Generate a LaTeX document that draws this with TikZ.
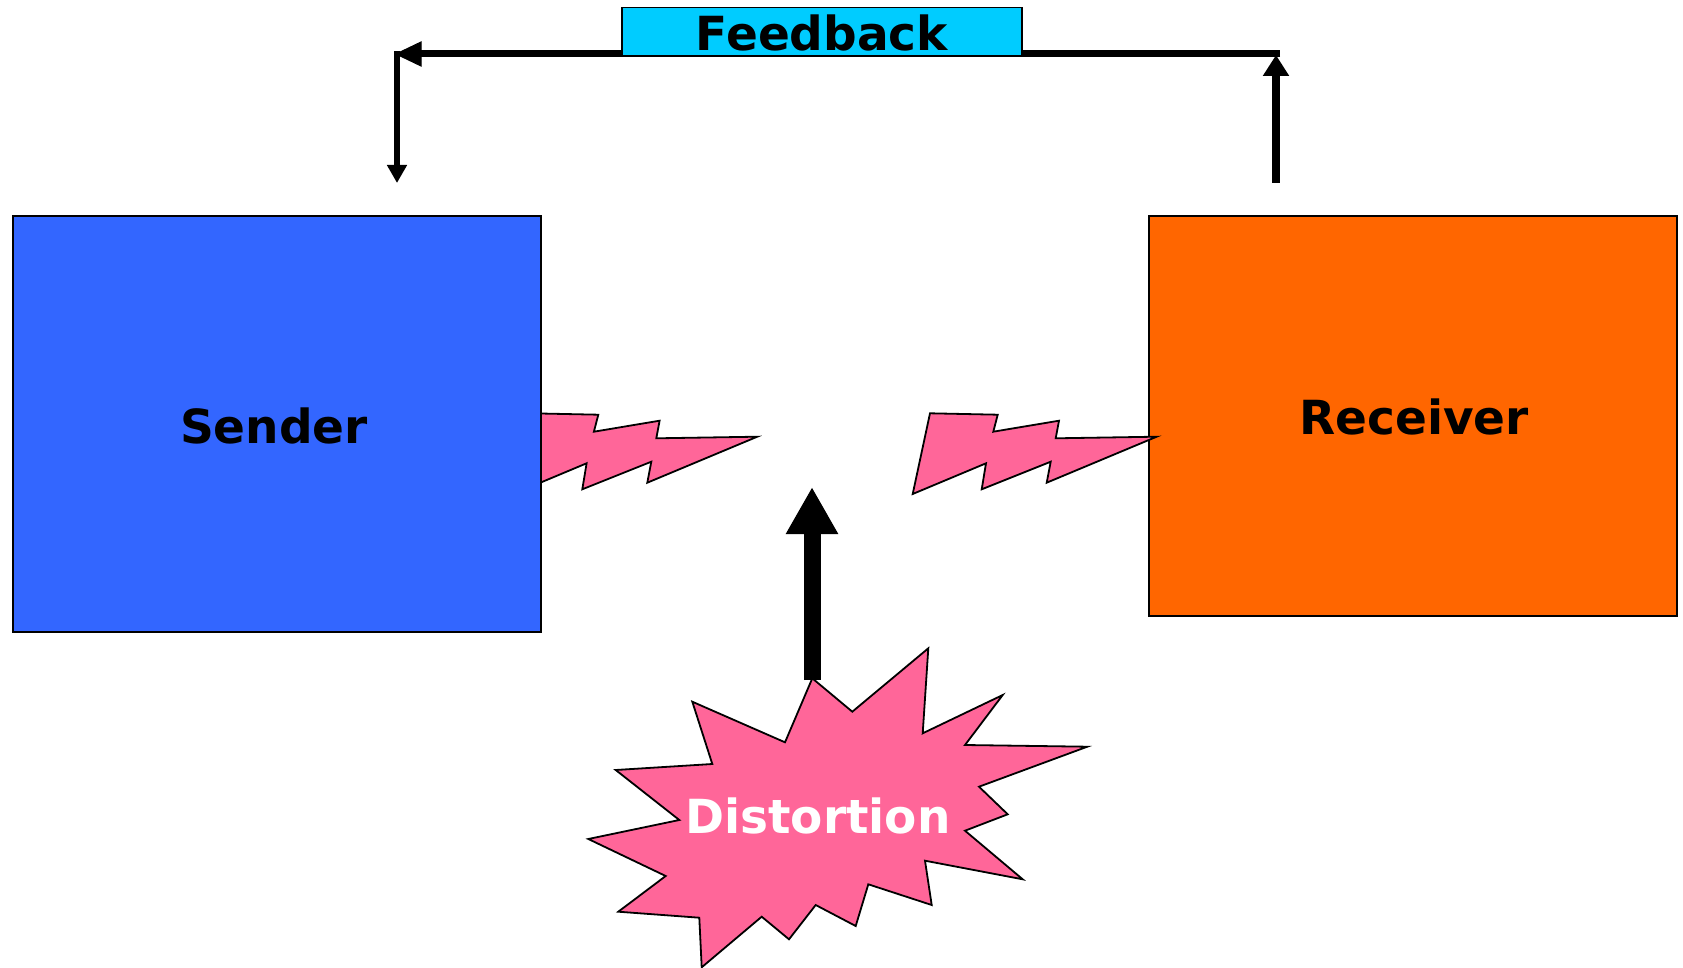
\documentclass[tikz,border=0pt]{standalone}
\usepackage{fontspec}
\setmainfont{DejaVu Sans}
\usetikzlibrary{arrows.meta}
\definecolor{sendblue}{HTML}{3366FF}
\definecolor{recvorange}{HTML}{FF6600}
\definecolor{fbcyan}{HTML}{00CCFF}
\definecolor{boltpink}{HTML}{FF6699}
\tikzset{
  bigtext/.style={font=\fontsize{47}{56}\selectfont\bfseries, inner sep=0pt},
  boxstyle/.style={draw=black, line width=2pt},
  boltstyle/.style={fill=boltpink, draw=black, line width=1.8pt, line join=miter},
}
\begin{document}
\begin{tikzpicture}[x=1pt, y=-1pt]
\useasboundingbox (0,0) rectangle (1683,968);
% left bolt (partly behind sender)
\draw[boltstyle, shift={(-399.4,0)}] (930,413.3) -- (997.7,414.7) -- (993.3,431.7) -- (1059,420.7) -- (1055.7,438.3) -- (1156.7,436.7) -- (1046.7,482.7) -- (1050.7,461.7) -- (981.7,489.3) -- (986,463.3) -- (912.7,494) -- cycle;
% boxes
\draw[boxstyle, fill=sendblue] (13,216) rectangle (541,632);
\node[bigtext] (sender) at (274,426) {Sender};
\draw[boxstyle, fill=recvorange] (1149,216) rectangle (1677,616);
\node[bigtext] (receiver) at (1414,417) {Receiver};
% right bolt
\draw[boltstyle] (930,413.3) -- (997.7,414.7) -- (993.3,431.7) -- (1059,420.7) -- (1055.7,438.3) -- (1156.7,436.7) -- (1046.7,482.7) -- (1050.7,461.7) -- (981.7,489.3) -- (986,463.3) -- (912.7,494) -- cycle;
% starburst
\draw[boltstyle] (812.3,678.3) -- (852.3,711.7) -- (928.3,648.3) -- (922.7,733.3) -- (1002.7,695) -- (965,745) -- (1087.3,746.7) -- (979,786.7) -- (1007.7,814.3) -- (965,830.7) -- (1022.7,879.3) -- (925,860.7) -- (931.7,905) -- (868.3,884.3) -- (855.7,926) -- (815.7,905) -- (789,939.3) -- (761.7,916.7) -- (701.7,967.3) -- (699.3,917.7) -- (618.3,911.7) -- (665.7,876) -- (588.3,839) -- (679.3,820) -- (615.7,770) -- (712.3,764) -- (692.3,701.7) -- (785,742.3) -- cycle;
\node[bigtext, text=white] (dist) at (818,816) {Distortion};
% distortion arrow
\coordinate (distTop) at (812,680);
\coordinate (distTip) at (812,487);
\draw[line width=17pt, -{Triangle[width=49pt,length=47pt]}] (distTop) -- (distTip);
% feedback loop
\coordinate (rxUp) at (1276,183);
\coordinate (fbRight) at (1276,54);
\coordinate (fbLeft) at (397,54);
\coordinate (txDown) at (397,183);
\draw[line width=8pt, -{Triangle[width=25pt,length=21pt]}] (rxUp) -- (1276,55);
\draw[line width=7pt, line cap=butt] (1280,54) -- (420,54);
\draw[line width=1pt, fill=black] (396,54) -- (421,42) -- (421,66) -- cycle;
\draw[line width=5.5pt, -{Triangle[width=19pt,length=18pt]}] (397,51) -- (txDown);
\node[draw=black, line width=1.5pt, fill=fbcyan, minimum width=400pt, minimum height=48pt, inner sep=0pt] (fbbox) at (822,31.5) {};
\node[bigtext] (fb) at (822,33) {Feedback};
\end{tikzpicture}
\end{document}
